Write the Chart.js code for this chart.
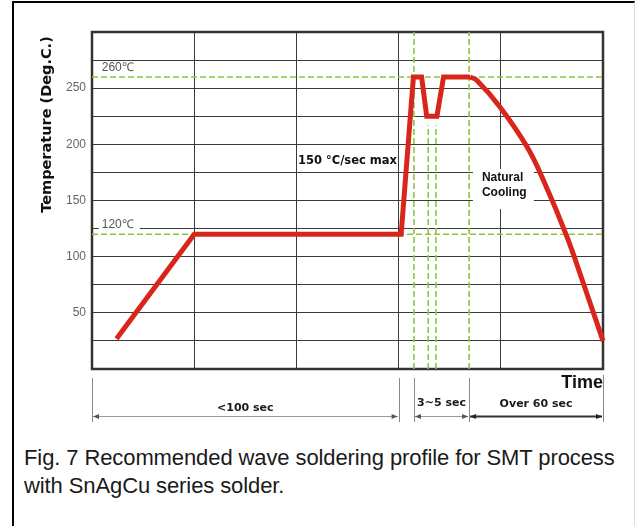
<!DOCTYPE html>
<html>
<head>
<meta charset="utf-8">
<script src="https://cdn.jsdelivr.net/npm/chart.js@4.4.1/dist/chart.umd.min.js"></script>
<style>
  body { margin: 0; background: #fff; width: 635px; height: 526px; overflow: hidden; position: relative; }
  #marco { position: absolute; left: 12px; top: 1px; width: 620px; height: 600px; border-left: 2px solid #000; border-top: 2px solid #000; border-right: 1px solid #ddd; }
  #caixa { position: absolute; left: 0; top: 0; width: 635px; height: 430px; }
  #legenda { position: absolute; left: 24px; top: 444px; width: 600px; font-family: 'Liberation Sans', Arial, sans-serif; font-size: 22px; letter-spacing: -0.1px; line-height: 28px; color: #1a1a1a; white-space: nowrap; }
</style>
</head>
<body>
<div id="marco"></div>
<div id="caixa"><canvas id="graficoSolda"></canvas></div>
<div id="legenda">
  <div>Fig. 7 Recommended wave soldering profile for SMT process</div>
  <div>with SnAgCu series solder.</div>
</div>
<script>
// perfil de temperatura (tempo em unidades do eixo, 0-100)
const perfilTempo = [4.8, 20, 60.5, 62.9, 64.5, 65.5, 67.5, 68.8, 74];
const perfilTemp = [27, 120, 120, 260, 260, 225, 225, 260, 260];
// resfriamento natural
const resfriaTempo = [74, 75.3, 79.8, 85.1, 88.3, 92.9, 96.1, 100];
const resfriaTemp = [260, 257, 233.5, 198, 168.5, 118.3, 77, 25];
// linhas de referencia tracejadas
const tempsRef = [260, 120];
const temposRef = [63, 73.8];
const temposMergulho = [65.8, 67.3];
const topoMergulho = 217;
// eixo
const eixoY = { min: 0, max: 300, passo: 25 };
const rotulosY = [50, 100, 150, 200, 250];
const eixoX = { min: 0, max: 100, passo: 20 };
// faixas de tempo abaixo do grafico
const faixas = [
  { de: 0, ate: 60, texto: '<100 sec', dy: 39, forte: false },
  { de: 63, ate: 73.8, texto: '3~5 sec', dy: 34, forte: false },
  { de: 73.8, ate: 100, texto: 'Over 60 sec', dy: 35, forte: true }
];

const VERDE = '#8cc63f';
const VERMELHO = '#d9261c';

function pontos(xs, ys) {
  return xs.map((x, i) => ({ x, y: ys[i] }));
}

const tracejadas = [];
tempsRef.forEach((t) => tracejadas.push([{ x: eixoX.min, y: t }, { x: eixoX.max, y: t }]));
temposRef.forEach((t) => tracejadas.push([{ x: t, y: eixoY.min }, { x: t, y: eixoY.max }]));
temposMergulho.forEach((t) => tracejadas.push([{ x: t, y: eixoY.min }, { x: t, y: topoMergulho }]));

const conjuntos = [
  {
    data: pontos(perfilTempo, perfilTemp),
    borderColor: VERMELHO, borderWidth: 5, tension: 0,
    borderJoinStyle: 'miter', pointRadius: 0, order: 0, clip: false
  },
  {
    data: pontos(resfriaTempo, resfriaTemp),
    borderColor: VERMELHO, borderWidth: 5, tension: 0.4,
    pointRadius: 0, order: 0, clip: false
  },
  ...tracejadas.map((d) => ({
    data: d, borderColor: VERDE, borderWidth: 1.6, borderDash: [6, 3],
    pointRadius: 0, order: 1
  }))
];

function seta(ctx, x, y, dir) {
  ctx.beginPath();
  ctx.moveTo(x, y);
  ctx.lineTo(x - dir * 6, y - 2.5);
  ctx.lineTo(x - dir * 6, y + 2.5);
  ctx.closePath();
  ctx.fill();
}

const anotacoes = {
  id: 'anotacoes',
  beforeDatasetsDraw(chart) {
    const { ctx, chartArea: a, scales: { x, y } } = chart;
    ctx.save();
    ctx.textBaseline = 'middle';

    // moldura
    ctx.strokeStyle = '#333';
    ctx.lineWidth = 2.5;
    ctx.strokeRect(a.left, a.top, a.width, a.height);

    ctx.font = '12px "Liberation Sans", Arial, sans-serif';
    ctx.fillStyle = '#555';
    ctx.textAlign = 'left';
    ctx.fillText('260\u2103', x.getPixelForValue(1.9), y.getPixelForValue(268));

    const x120 = x.getPixelForValue(1.9);
    const w120 = ctx.measureText('120\u2103').width;
    ctx.fillStyle = '#fff';
    ctx.fillRect(x120 - 3, y.getPixelForValue(125) - 2, w120 + 9, 4);
    ctx.fillStyle = '#555';
    ctx.fillText('120\u2103', x120, y.getPixelForValue(128.6));

    ctx.font = 'bold 11.5px "DejaVu Sans", Verdana, sans-serif';
    ctx.fillStyle = '#111';
    ctx.fillText('150 \u00b0C/sec max', x.getPixelForValue(40.3), y.getPixelForValue(184.8));

    const xn = x.getPixelForValue(76.3);
    ctx.fillStyle = '#fff';
    ctx.fillRect(xn - 9, y.getPixelForValue(178), 61, 40);
    ctx.font = 'bold 12px "Liberation Sans", Arial, sans-serif';
    ctx.fillStyle = '#111';
    ctx.fillText('Natural', xn, y.getPixelForValue(170.6));
    ctx.fillText('Cooling', xn, y.getPixelForValue(157.3));
    ctx.restore();
  },
  afterDraw(chart) {
    const { ctx, chartArea: a, scales: { x } } = chart;
    ctx.save();

    // titulo do eixo y
    ctx.translate(47, (a.top + a.bottom) / 2 - 76);
    ctx.rotate(-Math.PI / 2);
    ctx.font = 'bold 14.5px "DejaVu Sans", Verdana, sans-serif';
    ctx.fillStyle = '#111';
    ctx.textAlign = 'center';
    ctx.textBaseline = 'middle';
    ctx.fillText('Temperature (Deg.C.)', 0, 0);
    ctx.setTransform(1, 0, 0, 1, 0, 0);

    ctx.font = 'bold 18px "Liberation Sans", Arial, sans-serif';
    ctx.textAlign = 'right';
    ctx.fillText('Time', a.right, a.bottom + 14);

    // linhas de cota
    ctx.strokeStyle = '#888';
    ctx.lineWidth = 1;
    const marcas = [0, 60, 63, 73.8, 100];
    marcas.forEach((t) => {
      const px = Math.round(x.getPixelForValue(t)) + 0.5;
      ctx.beginPath();
      ctx.moveTo(px, a.bottom + (t === 100 ? 6 : 9));
      ctx.lineTo(px, a.bottom + 53);
      ctx.stroke();
    });

    const ys = a.bottom + 47.5;
    faixas.forEach((f) => {
      const x0 = x.getPixelForValue(f.de) + 1;
      const x1 = x.getPixelForValue(f.ate) - 1;
      ctx.strokeStyle = f.forte ? '#333' : '#999';
      ctx.fillStyle = f.forte ? '#222' : '#555';
      ctx.lineWidth = f.forte ? 2 : 1;
      ctx.beginPath();
      ctx.moveTo(x0, ys);
      ctx.lineTo(x1, ys);
      ctx.stroke();
      seta(ctx, x0, ys, -1);
      seta(ctx, x1, ys, 1);
      ctx.font = 'bold 11px "DejaVu Sans", Verdana, sans-serif';
      ctx.fillStyle = '#1a1a1a';
      ctx.textAlign = 'center';
      ctx.textBaseline = 'middle';
      ctx.fillText(f.texto, (x0 + x1) / 2, a.bottom + f.dy);
    });
    ctx.restore();
  }
};

new Chart(document.getElementById('graficoSolda'), {
  type: 'line',
  data: { datasets: conjuntos },
  options: {
    responsive: true,
    maintainAspectRatio: false,
    animation: false,
    layout: { padding: { left: 52, top: 32, right: 32, bottom: 61 } },
    plugins: { legend: { display: false }, tooltip: { enabled: false } },
    scales: {
      x: {
        type: 'linear', min: eixoX.min, max: eixoX.max,
        ticks: { display: false, stepSize: eixoX.passo },
        grid: { color: '#3a3a3a', lineWidth: 1, drawTicks: false },
        border: { display: false },
        afterFit: (s) => { s.height = 0; }
      },
      y: {
        min: eixoY.min, max: eixoY.max,
        ticks: {
          stepSize: eixoY.passo, padding: 6, color: '#666',
          font: { family: '"Liberation Sans", Arial, sans-serif', size: 12 },
          callback: (v) => (rotulosY.includes(v) ? v : '')
        },
        grid: { color: '#3a3a3a', lineWidth: 1, drawTicks: false },
        border: { display: false },
        afterFit: (s) => { s.width = 40; }
      }
    }
  },
  plugins: [anotacoes]
});
</script>
</body>
</html>
